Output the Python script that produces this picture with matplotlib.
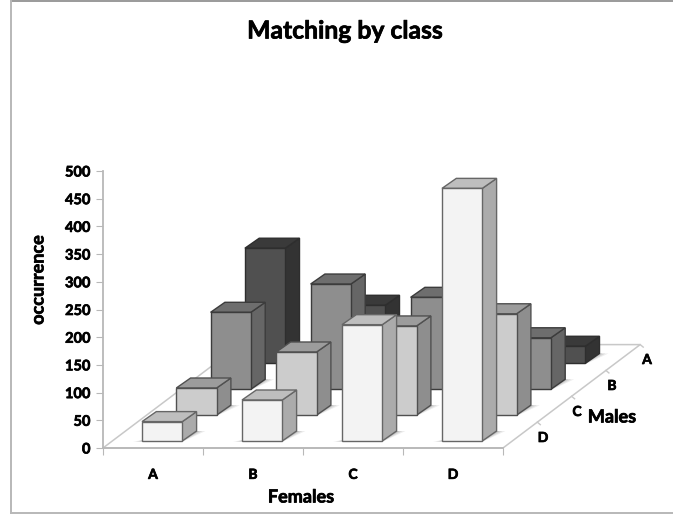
import matplotlib
matplotlib.use("Agg")
import matplotlib.pyplot as plt
from matplotlib.patches import Polygon
from matplotlib.lines import Line2D
import matplotlib.patheffects as pe

females = ["A", "B", "C", "D"]
males = ["A", "B", "C", "D"]
# occurrence for each male class (rows), by female class
male_A = [208, 105, 80, 31]
male_B = [139, 190, 166, 93]
male_C = [49, 114, 161, 183]
male_D = [35, 74, 210, 456]
yticks = [0, 50, 100, 150, 200, 250, 300, 350, 400, 450, 500]

W, H = 673, 514
plt.rcParams["font.family"] = ["Lato", "DejaVu Sans"]
plt.rcParams["font.weight"] = "bold"
fig = plt.figure(figsize=(W / 100, H / 100), dpi=100, facecolor="white")
L, R, T, B = 103, 503, 171, 448
ax = fig.add_axes([L / W, 1 - B / H, (R - L) / W, (B - T) / H])
ax.set_xlim(0, 4)
ax.set_ylim(0, 500)
ax.patch.set_alpha(0)
for s in ("top", "right"):
    ax.spines[s].set_visible(False)
for s in ("left", "bottom"):
    ax.spines[s].set_color("#B8B8B8")
    ax.spines[s].set_linewidth(1.3)
ax.set_yticks(yticks)
ax.set_xticks(range(5))
ax.set_xticklabels([])
ax.set_xticks([0.5, 1.5, 2.5, 3.5], minor=True)
ax.set_xticklabels(females, minor=True, fontsize=10, color="black", fontweight="bold")
ax.tick_params(axis="x", which="major", length=5, color="#B8B8B8")
ax.tick_params(axis="x", which="minor", length=0, pad=15)
ax.tick_params(axis="y", length=5, color="#B8B8B8", labelsize=10.5, pad=4)
bold = [pe.withStroke(linewidth=0.5, foreground="black")]
for t in ax.get_yticklabels() + ax.get_xticklabels(minor=True):
    t.set_path_effects(bold)

pxx = 4 / (R - L)
pxy = 500 / (B - T)
dep_x, dep_y = 34.3 * pxx, 25.85 * pxy   # depth step of one row
bd_x, bd_y = 14.3 * pxx, 10 * pxy        # bar depth
bw = 40.3 * pxx
x0, y0 = 39 * pxx, 7 * pxy
n = 4

# floor
fx = n * dep_x
fy = n * dep_y
ax.add_patch(Polygon([(0, 0), (4, 0), (4 + fx, fy), (fx, fy)], closed=True, fc="white",
                     ec="#C8C8C8", lw=1.1, clip_on=False, zorder=1))
for k in range(1, 5):
    ax.plot([4 + k * dep_x, 4 + k * dep_x + 3 * pxx], [k * dep_y, k * dep_y - 2.5 * pxy],
            color="#C8C8C8", lw=1, clip_on=False, zorder=1)

styles = [  # back to front: face, top, side, edge
    (male_A, "#505050", "#3A3A3A", "#333333", "#2E2E2E"),
    (male_B, "#8E8E8E", "#6E6E6E", "#666666", "#3C3C3C"),
    (male_C, "#CCCCCC", "#9C9C9C", "#8E8E8E", "#505050"),
    (male_D, "#F3F3F3", "#BEBEBE", "#ABABAB", "#666666"),
]
z = 2
for row, (vals, face, top, side, edge) in enumerate(styles):
    r = n - 1 - row
    for i in range(n - 1, -1, -1):
        v = vals[i]
        x = i + x0 + r * dep_x
        y = y0 + r * dep_y
        # soft shadow on the floor
        for grow, a in ((9, 0.07), (6, 0.09), (3, 0.12)):
            gx, gy = grow * pxx, 0.5 * grow * pxy
            ax.add_patch(Polygon([(x - gx, y - 0.2 * gy), (x + bw, y - 0.2 * gy),
                                  (x + bw + bd_x + gx, y + bd_y), (x + bw, y + bd_y)],
                                 closed=True, fc="#000000", ec="none", alpha=a,
                                 clip_on=False, zorder=z))
        z += 1
        ax.add_patch(Polygon([(x + bw, y), (x + bw + bd_x, y + bd_y),
                              (x + bw + bd_x, y + bd_y + v), (x + bw, y + v)],
                             closed=True, fc=side, ec=edge, lw=1, clip_on=False, zorder=z))
        ax.add_patch(Polygon([(x, y + v), (x + bw, y + v),
                              (x + bw + bd_x, y + v + bd_y), (x + bd_x, y + v + bd_y)],
                             closed=True, fc=top, ec=edge, lw=1, clip_on=False, zorder=z))
        ax.bar(x, v, bw, bottom=y, align="edge", color=face, edgecolor=edge, lw=1,
               clip_on=False, zorder=z + 1)
        z += 2


def label(px, py, s, size, **kw):
    t = fig.text(px / W, 1 - py / H, s, ha="center", va="center", fontsize=size,
                 fontweight="bold", color="black", **kw)
    t.set_path_effects(bold)


for s, (px, py) in zip(males, [(647, 360), (612, 386), (577, 412), (543, 438)]):
    label(px, py, s, 10)
label(612, 417, "Males", 13)
label(301, 497, "Females", 13)
label(38, 280, "occurrence", 13, rotation=90)
label(345, 31, "Matching by class", 17.8)

# chart frame: top, left and bottom edges only
for xs, ys, c in (([11 / W, 1], [1 - 0.8 / H] * 2, "#9A9A9A"),
                  ([11 / W, 11 / W], [1 - 513 / H, 1], "#B8B8B8"),
                  ([11 / W, 1], [1 - 512.7 / H] * 2, "#B8B8B8")):
    fig.add_artist(Line2D(xs, ys, transform=fig.transFigure, color=c, lw=1.4))
fig.savefig("out.png", dpi=100)
